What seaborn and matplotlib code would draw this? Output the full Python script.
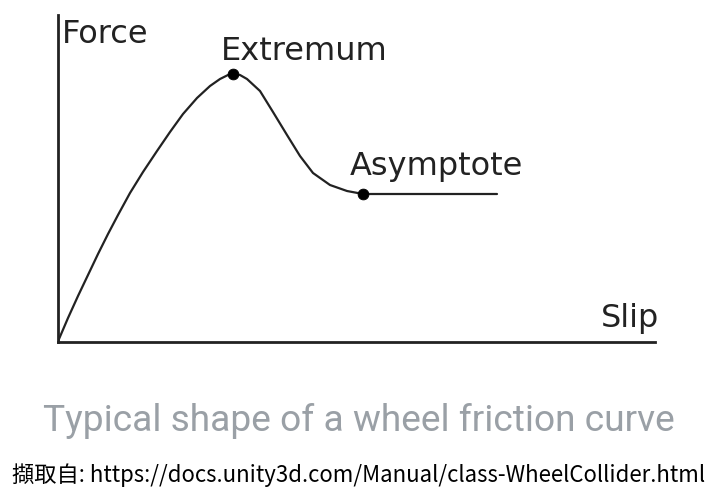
import numpy as np
import pandas as pd
import matplotlib.pyplot as plt
import seaborn as sns

# pontos (x = deslizamento, y = força, em unidades de pixel)
slip = [0, 1, 10, 20, 30, 40, 50, 60, 72, 85, 99, 112, 125, 139, 152, 162,
        170, 175, 182, 189, 202, 215, 229, 242, 255, 272, 289, 305, 439]
force = [0, 3, 24, 46, 67, 88, 108, 127, 149, 170, 191, 210, 228, 244, 256,
         263, 267, 268, 267, 263, 251, 230, 207, 186, 169, 157, 151, 148, 148]

key_slip = [175, 305]
key_force = [268, 148]
key_labels = ['Extremum', 'Asymptote']

curve = pd.DataFrame({'slip': slip, 'force': force})
keys = pd.DataFrame({'slip': key_slip, 'force': key_force})

sns.set_theme(style='white')
plt.rcParams['font.family'] = ['DejaVu Sans', 'Noto Sans CJK TC']

fig = plt.figure(figsize=(7.18, 4.97), dpi=100)
ax = fig.add_axes([58 / 718, 155 / 497, 597 / 718, 327 / 497])

sns.lineplot(data=curve, x='slip', y='force', sort=False, color='#222222',
             linewidth=1.6, ax=ax, solid_joinstyle='round')
sns.scatterplot(data=keys, x='slip', y='force', color='black', s=60,
                edgecolor='black', zorder=3, ax=ax)

ax.set_xlim(0, 597)
ax.set_ylim(0, 327)
ax.set_xticks([])
ax.set_yticks([])
ax.set_xlabel('')
ax.set_ylabel('')
for side in ['top', 'right']:
    ax.spines[side].set_visible(False)
for side in ['left', 'bottom']:
    ax.spines[side].set_color('#222222')
    ax.spines[side].set_linewidth(2)

txt = dict(fontsize=23, color='#222222')
ax.text(4, 299, 'Force', va='baseline', **txt)
ax.text(163, 282, key_labels[0], va='baseline', **txt)
ax.text(292, 167, key_labels[1], va='baseline', **txt)
ax.text(543, 15, 'Slip', va='baseline', **txt)

fig.text(359 / 718, 1 - 421 / 497, 'Typical shape of a wheel friction curve',
         ha='center', va='center', fontsize=26.7, color='#9aa0a6',
         family=['Roboto', 'DejaVu Sans'])
fig.text(12 / 718, 1 - 475 / 497,
         '擷取自: https://docs.unity3d.com/Manual/class-WheelCollider.html',
         ha='left', va='center', fontsize=16, color='black',
         family=['Liberation Sans Narrow', 'Noto Sans CJK TC'])

fig.savefig('out.png', dpi=100)
